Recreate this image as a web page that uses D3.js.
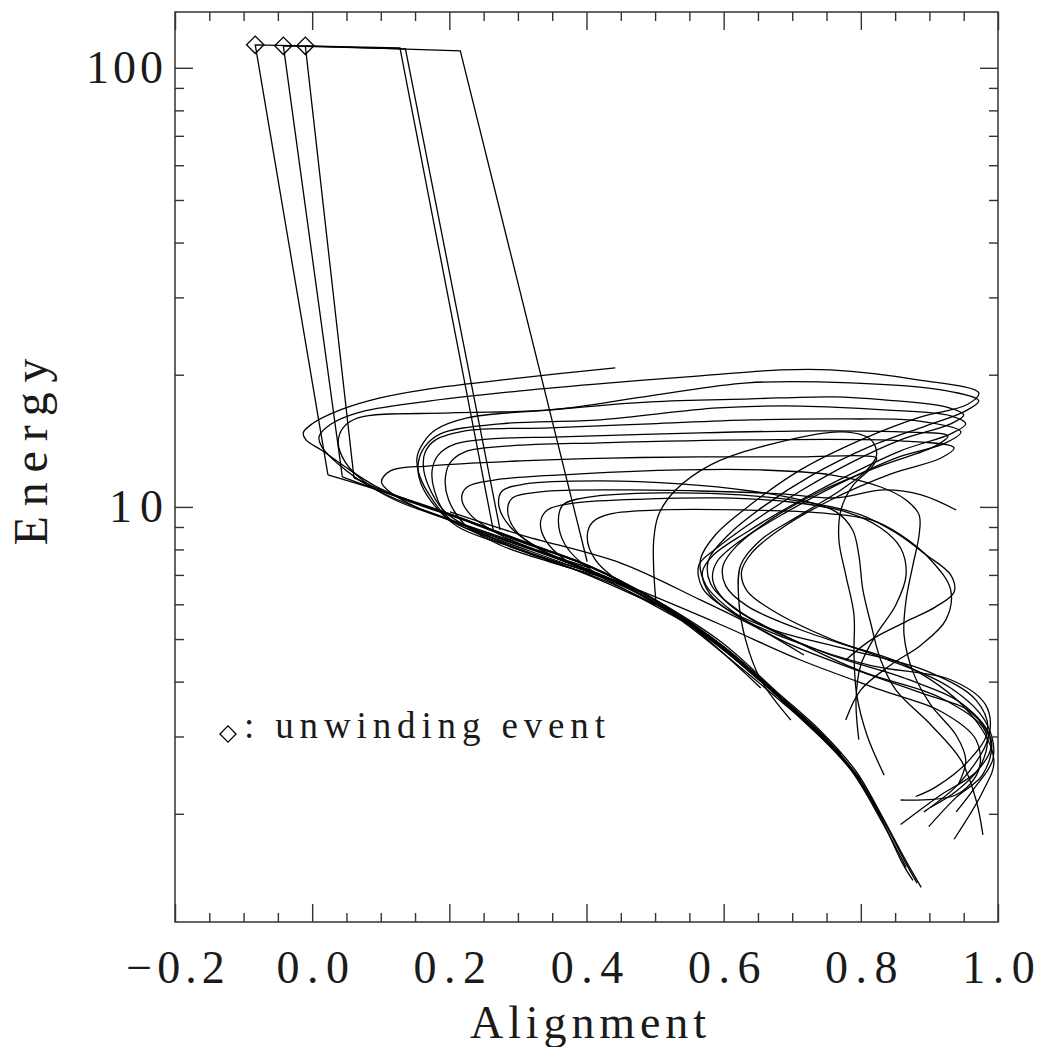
<!DOCTYPE html>
<html>
<head>
<meta charset="utf-8">
<script src="https://cdn.jsdelivr.net/npm/d3@7/dist/d3.min.js"></script>
<style>
  body { margin: 0; background: #fff; }
  text { font-family: "Liberation Serif", "DejaVu Serif", serif; fill: #1a1a1a; }
  .tick text { font-size: 46px; }
</style>
</head>
<body>
<svg id="chart"></svg>
<script>
// tick values
var xMajor = [-0.2, 0.0, 0.2, 0.4, 0.6, 0.8, 1.0];
var xMinor = [-0.15, -0.1, -0.05, 0.05, 0.1, 0.15, 0.25, 0.3, 0.35, 0.45, 0.5, 0.55, 0.65, 0.7, 0.75, 0.85, 0.9, 0.95];
var yMajor = [10, 100];
var yMinor = [2, 3, 4, 5, 6, 7, 8, 9, 20, 30, 40, 50, 60, 70, 80, 90];

// jumps [alignment, energy]: relaxed point -> kicked state -> unwinding event -> relaxed knee
var jump1 = [[0.264, 8.86], [0.128, 111.0], [-0.083, 112.8], [0.023, 11.83]];
var jump2 = [[0.274, 8.86], [0.136, 110.5], [-0.042, 112.2], [0.044, 11.70]];
var jump3 = [[0.401, 7.50], [0.216, 109.3], [-0.010, 112.2], [0.061, 11.64]];

// relaxation after the unwinding events
var relax1 = [[0.023,11.83],[0.114,10.71],[0.201,9.64],[0.304,8.37],[0.401,7.38],[0.493,6.24],[0.596,4.93],[0.676,3.81],[0.742,3.08],[0.793,2.50],[0.829,2.00],[0.866,1.56],[0.888,1.36]];
var relax2 = [[0.044,11.70],[0.128,10.48],[0.216,9.44],[0.311,8.28],[0.406,7.30],[0.501,6.11],[0.599,4.82],[0.680,3.73],[0.745,3.02],[0.794,2.45],[0.831,1.96],[0.864,1.56],[0.882,1.39]];
var relax3 = [[0.061,11.64],[0.143,10.26],[0.231,9.24],[0.326,8.15],[0.420,7.15],[0.515,5.92],[0.607,4.67],[0.686,3.65],[0.749,2.95],[0.797,2.40],[0.832,1.92],[0.861,1.54],[0.876,1.41]];

// trajectories turning at low alignment
var far1 = [[0.712,3.34],[0.654,4.06],[0.596,4.85],[0.493,6.21],[0.401,7.34],[0.304,8.32],[0.216,9.39],[0.143,10.32],[0.092,11.16],[0.048,12.34],[0.015,13.42],[-0.009,14.21],[-0.013,14.75],[0.000,15.46],[0.041,16.63],[0.099,17.71],[0.162,18.48],[0.304,19.67],[0.442,20.73]];
var far2 = [[0.866,1.51],[0.829,1.94],[0.785,2.52],[0.727,3.15],[0.654,4.02],[0.566,5.17],[0.479,6.33],[0.391,7.30],[0.304,8.23],[0.216,9.19],[0.143,10.11],[0.085,11.10],[0.038,12.53],[0.015,13.63],[0.010,14.44],[0.026,15.38],[0.066,16.37],[0.162,17.35],[0.304,18.38],[0.435,19.17],[0.566,19.88],[0.683,20.51],[0.756,20.51],[0.883,19.47],[0.972,18.19],[0.956,17.13],[0.883,15.95],[0.800,14.21],[0.712,12.14],[0.639,10.11],[0.588,8.64],[0.566,7.57],[0.574,6.64],[0.610,5.83],[0.683,4.98],[0.785,4.30],[0.888,3.77],[0.961,3.40],[0.990,2.87],[0.968,2.49],[0.917,2.21],[0.858,1.89]];
var far3 = [[0.800,2.39],[0.756,2.87],[0.698,3.45],[0.625,4.30],[0.537,5.53],[0.450,6.68],[0.362,7.57],[0.274,8.46],[0.187,9.49],[0.121,10.37],[0.073,11.52],[0.048,12.66],[0.038,13.99],[0.045,15.14],[0.067,15.95],[0.201,16.37],[0.347,16.63],[0.493,17.90],[0.635,19.17],[0.785,19.17],[0.917,18.48],[0.972,17.44],[0.950,16.46],[0.895,15.30],[0.812,13.70],[0.727,11.77],[0.657,10.00],[0.607,8.64],[0.578,7.57],[0.581,6.68],[0.622,5.80],[0.701,4.98],[0.803,4.21],[0.917,3.67],[0.982,3.07],[0.975,2.58],[0.939,2.25],[0.902,2.07]];

// trajectories turning near alignment 0.15-0.2
var mid1 = [[0.771,2.74],[0.683,3.69],[0.581,5.06],[0.479,6.40],[0.362,7.49],[0.260,8.55],[0.201,9.34],[0.169,10.76],[0.155,12.01],[0.153,13.00],[0.162,13.99],[0.180,14.98],[0.226,15.95],[0.347,16.63],[0.493,17.35],[0.639,17.62],[0.761,17.81],[0.834,17.53],[0.924,16.90],[0.950,16.20],[0.931,15.46],[0.858,14.21],[0.785,12.60],[0.712,10.87],[0.642,9.24],[0.590,8.06],[0.564,7.38],[0.569,6.54],[0.604,5.86],[0.672,5.25],[0.785,4.72],[0.899,4.21],[0.968,3.63],[0.985,3.10],[0.958,2.65],[0.909,2.30],[0.880,2.19]];
var mid2 = [[0.501,5.98],[0.384,7.19],[0.282,8.19],[0.213,9.00],[0.172,10.37],[0.156,11.64],[0.155,12.66],[0.164,13.70],[0.187,14.67],[0.274,15.46],[0.420,15.78],[0.591,16.80],[0.712,16.97],[0.834,16.63],[0.931,16.12],[0.953,15.46],[0.931,14.67],[0.858,13.42],[0.771,11.58],[0.698,10.06],[0.634,8.77],[0.584,7.74],[0.569,7.11],[0.580,6.33],[0.619,5.65],[0.701,4.95],[0.815,4.35],[0.931,4.04],[0.982,3.54],[0.987,3.02],[0.946,2.37],[0.892,2.02]];
var mid3 = [[0.420,7.00],[0.318,7.86],[0.245,8.73],[0.194,9.74],[0.169,11.22],[0.162,12.47],[0.165,13.35],[0.180,14.21],[0.223,14.90],[0.347,15.14],[0.493,15.46],[0.639,15.78],[0.785,15.86],[0.883,15.70],[0.946,14.82],[0.924,13.99],[0.851,12.92],[0.765,11.22],[0.692,9.74],[0.626,8.41],[0.590,7.49],[0.584,6.82],[0.601,6.14],[0.651,5.42],[0.753,4.62],[0.870,4.04],[0.950,3.54],[0.990,2.95],[0.978,2.46],[0.939,2.18],[0.899,1.87]];
var mid4 = [[0.829,1.96],[0.785,2.54],[0.712,3.30],[0.639,4.21],[0.552,5.39],[0.435,6.71],[0.333,7.66],[0.253,8.55],[0.199,9.44],[0.178,10.93],[0.175,12.14],[0.184,13.14],[0.209,13.91],[0.260,14.29],[0.362,14.44],[0.566,14.75],[0.742,14.90],[0.858,14.82],[0.927,14.51],[0.909,13.77],[0.829,12.40],[0.742,10.87],[0.670,9.39],[0.619,8.15],[0.599,7.34],[0.603,6.61],[0.634,5.95],[0.712,5.25],[0.829,4.55],[0.931,3.87],[0.982,3.24],[0.993,2.68],[0.964,2.27],[0.939,2.02]];
var mid5 = [[0.450,6.75],[0.347,7.49],[0.274,8.19],[0.223,9.10],[0.199,10.37],[0.194,11.52],[0.201,12.60],[0.223,13.35],[0.289,13.77],[0.420,13.99],[0.639,14.21],[0.858,14.14],[0.936,13.63],[0.917,12.92],[0.844,11.89],[0.756,10.37],[0.685,8.95],[0.641,7.86],[0.626,7.11],[0.634,6.44],[0.672,5.80],[0.759,4.98],[0.873,4.30],[0.961,3.36],[0.994,2.65],[0.978,2.25],[0.936,1.75]];

// lower energy loops
var low1 = [[0.362,7.61],[0.245,8.82],[0.158,9.89],[0.117,10.71],[0.101,11.40],[0.114,12.08],[0.172,12.40],[0.304,12.73],[0.435,12.92],[0.566,13.00],[0.712,13.00],[0.803,13.07],[0.823,12.92],[0.815,12.27],[0.788,11.16],[0.771,9.84],[0.768,8.41],[0.778,7.00],[0.790,5.68],[0.790,4.60],[0.794,3.73],[0.809,3.02],[0.834,2.45]];
var low2 = [[0.479,6.40],[0.362,7.57],[0.274,8.64],[0.231,9.59],[0.218,10.48],[0.226,11.10],[0.267,11.52],[0.391,11.89],[0.537,12.14],[0.654,12.14],[0.756,11.83],[0.829,11.10],[0.866,10.37],[0.885,9.59],[0.885,8.64],[0.876,7.38],[0.866,6.14],[0.863,5.11],[0.876,4.21],[0.902,3.54],[0.939,3.02],[0.953,2.65],[0.942,2.33]];
var low3 = [[0.742,3.02],[0.654,4.00],[0.566,5.20],[0.435,6.86],[0.340,7.90],[0.289,9.00],[0.272,10.11],[0.277,10.87],[0.311,11.28],[0.420,11.46],[0.537,11.28],[0.639,10.87],[0.712,10.37],[0.764,9.74],[0.788,8.86],[0.797,7.78],[0.803,6.47],[0.815,5.39],[0.829,4.48],[0.851,3.83],[0.902,3.19],[0.946,2.65],[0.968,2.15],[0.978,1.79]];
var low4 = [[0.406,7.26],[0.333,7.98],[0.296,8.86],[0.285,9.84],[0.292,10.48],[0.333,10.82],[0.450,10.93],[0.566,10.87],[0.683,10.71],[0.761,10.48],[0.834,10.93],[0.888,10.65],[0.939,9.84]];
var low5 = [[0.537,5.53],[0.435,6.75],[0.369,7.57],[0.340,8.41],[0.333,9.24],[0.343,9.84],[0.384,10.21],[0.493,10.43],[0.596,10.48],[0.698,10.26],[0.778,9.74],[0.829,8.95],[0.858,8.06],[0.866,7.00],[0.851,5.98],[0.822,5.11],[0.800,4.37],[0.793,3.63],[0.797,2.95]];
var low6 = [[0.596,4.85],[0.479,6.30],[0.406,7.19],[0.369,8.19],[0.359,9.34],[0.366,10.11],[0.406,10.54],[0.508,10.76],[0.625,10.65],[0.727,10.21],[0.800,9.59],[0.851,8.73],[0.895,7.78],[0.931,7.00],[0.936,6.40],[0.909,5.92],[0.866,5.48],[0.815,4.98],[0.778,4.48]];
var low7 = [[0.501,6.14],[0.498,7.19],[0.498,8.41],[0.505,9.59],[0.530,10.93],[0.581,12.47],[0.654,13.70],[0.774,14.82],[0.815,14.21],[0.823,13.14],[0.809,12.14],[0.771,10.93],[0.712,9.59],[0.654,8.41],[0.625,7.38],[0.622,6.14],[0.632,4.98],[0.654,4.04],[0.698,3.27]];
var low8 = [[0.654,3.87],[0.537,5.59],[0.450,6.71],[0.413,7.57],[0.401,8.55],[0.409,9.24],[0.435,9.64],[0.508,9.84],[0.625,9.84],[0.742,9.69],[0.815,9.34],[0.858,8.64],[0.902,7.57],[0.931,6.47],[0.924,5.53],[0.888,4.85],[0.844,4.37],[0.800,3.83],[0.778,3.27]];
var side1 = [[0.201,9.74],[0.304,8.64],[0.450,7.45],[0.566,6.14],[0.654,5.25],[0.717,4.60]];
var side2 = [[0.304,8.19],[0.450,6.71],[0.596,5.39],[0.712,4.48],[0.829,3.83],[0.917,3.42],[0.968,2.95],[0.972,2.52],[0.939,2.21],[0.858,2.15]];

var jumps = [jump1, jump2, jump3];
var trajectories = [relax1, relax2, relax3, far1, far2, far3, mid1, mid2, mid3, mid4, mid5,
    low1, low2, low3, low4, low5, low6, low7, low8, side1, side2];

var width = 1039,
    height = 1047;

var x = d3.scaleLinear()
    .domain([-0.2, 1.0])
    .range([175, 998]);

var y = d3.scaleLog()
    .domain([1.134, 134])
    .range([922, 12]);

var svg = d3.select('#chart')
    .attr('width', width)
    .attr('height', height);

svg.append('defs').append('clipPath').attr('id', 'plot-clip')
    .append('rect')
    .attr('x', x.range()[0]).attr('y', y.range()[1])
    .attr('width', x.range()[1] - x.range()[0])
    .attr('height', y.range()[0] - y.range()[1]);

var smooth = d3.line()
    .x(function (d) { return x(d[0]); })
    .y(function (d) { return y(d[1]); })
    .curve(d3.curveCatmullRom.alpha(0.5));

var straight = d3.line()
    .x(function (d) { return x(d[0]); })
    .y(function (d) { return y(d[1]); });

var lines = svg.append('g').attr('clip-path', 'url(#plot-clip)');

lines.selectAll('path.traj')
    .data(trajectories)
    .enter().append('path')
    .attr('class', 'traj')
    .attr('d', smooth)
    .attr('fill', 'none')
    .attr('stroke', '#000')
    .attr('stroke-width', 1.3);

lines.selectAll('path.jump')
    .data(jumps)
    .enter().append('path')
    .attr('class', 'jump')
    .attr('d', straight)
    .attr('fill', 'none')
    .attr('stroke', '#000')
    .attr('stroke-width', 1.3);

// unwinding event markers
var diamond = d3.symbol().type(d3.symbolSquare).size(150);
svg.selectAll('path.unwind')
    .data(jumps)
    .enter().append('path')
    .attr('class', 'unwind')
    .attr('d', diamond)
    .attr('transform', function (d) { return 'translate(' + x(d[2][0]) + ',' + y(d[2][1]) + ') rotate(45)'; })
    .attr('fill', 'none')
    .attr('stroke', '#000')
    .attr('stroke-width', 1.3);

// frame
svg.append('rect')
    .attr('x', x.range()[0]).attr('y', y.range()[1])
    .attr('width', x.range()[1] - x.range()[0])
    .attr('height', y.range()[0] - y.range()[1])
    .attr('fill', 'none')
    .attr('stroke', '#333')
    .attr('stroke-width', 1.5);

function tickAxis(axis, tx, ty) {
    var g = svg.append('g')
        .attr('transform', 'translate(' + tx + ',' + ty + ')')
        .call(axis);
    g.select('.domain').remove();
    g.selectAll('.tick line').attr('stroke', '#333').attr('stroke-width', 1.4);
    return g;
}
function blank() { return ''; }

var xAxis = tickAxis(d3.axisBottom(x).tickValues(xMajor).tickSize(-18).tickPadding(28).tickFormat(d3.format('.1f')), 0, 922);
tickAxis(d3.axisBottom(x).tickValues(xMinor).tickSize(-9).tickFormat(blank), 0, 922);
tickAxis(d3.axisTop(x).tickValues(xMajor).tickSize(-18).tickFormat(blank), 0, 12);
tickAxis(d3.axisTop(x).tickValues(xMinor).tickSize(-9).tickFormat(blank), 0, 12);

var yAxis = tickAxis(d3.axisLeft(y).tickValues(yMajor).tickSize(-18).tickPadding(12).tickFormat(d3.format('d')), 175, 0);
tickAxis(d3.axisLeft(y).tickValues(yMinor).tickSize(-9).tickFormat(blank), 175, 0);
tickAxis(d3.axisRight(y).tickValues(yMajor).tickSize(-18).tickFormat(blank), 998, 0);
tickAxis(d3.axisRight(y).tickValues(yMinor).tickSize(-9).tickFormat(blank), 998, 0);

// open up the digit spacing a little, like the original plotting font
xAxis.selectAll('.tick text')
    .attr('fill', '#1a1a1a')
    .each(function () {
        var w = this.getComputedTextLength();
        d3.select(this).attr('textLength', w + 15).attr('lengthAdjust', 'spacing');
    });
yAxis.selectAll('.tick text')
    .attr('fill', '#1a1a1a')
    .each(function () {
        var w = this.getComputedTextLength();
        d3.select(this).attr('textLength', w + 8).attr('lengthAdjust', 'spacing');
    });

// axis titles
svg.append('text')
    .attr('x', 588).attr('y', 1038)
    .attr('text-anchor', 'middle')
    .style('font-size', '46px')
    .attr('textLength', 236).attr('lengthAdjust', 'spacing')
    .text('Alignment');

svg.append('text')
    .attr('transform', 'translate(47,452) rotate(-90)')
    .attr('text-anchor', 'middle')
    .style('font-size', '48px')
    .attr('textLength', 187).attr('lengthAdjust', 'spacing')
    .text('Energy');

// legend
svg.append('path')
    .attr('d', d3.symbol().type(d3.symbolSquare).size(130))
    .attr('transform', 'translate(228,734) rotate(45)')
    .attr('fill', 'none')
    .attr('stroke', '#000')
    .attr('stroke-width', 1.3);

svg.append('text')
    .attr('x', 244).attr('y', 738)
    .style('font-size', '37px')
    .attr('textLength', 361).attr('lengthAdjust', 'spacing')
    .text(': unwinding event');
</script>
</body>
</html>
